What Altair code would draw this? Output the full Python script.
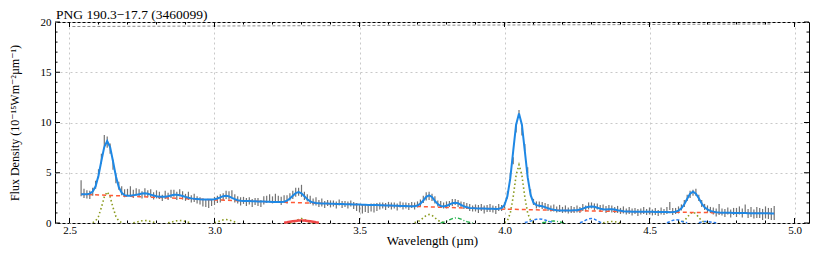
import altair as alt
import numpy as np
import pandas as pd

TITLE = "PNG 190.3\u221217.7 (3460099)"
X_TITLE = "Wavelength (\u00b5m)"
Y_TITLE = "Flux Density (10\u207b\u00b9\u2075Wm\u207b\u00b2\u00b5m\u207b\u00b9)"
FONT = "Liberation Serif, Times New Roman, DejaVu Serif, serif"

# wavelength sampling of the spectrum (2.54 ... 4.93 um, 0.01 um)
WL_START, WL_STEP, N_PTS = 2.54, 0.01, 240
wavelength = np.round(WL_START + WL_STEP * np.arange(N_PTS), 2)

flux = [
    3.45, 2.95, 2.85, 2.80, 3.10, 3.80, 4.90, 6.40, 8.20, 8.05,
    7.40, 5.80, 4.40, 3.70, 3.20, 2.95, 3.05, 3.20, 2.90, 3.10,
    2.95, 2.80, 3.05, 2.90, 2.95, 2.70, 2.85, 2.75, 2.50, 2.80,
    2.65, 2.90, 2.95, 2.70, 3.00, 2.75, 2.55, 2.70, 2.40, 2.50,
    2.30, 2.20, 2.05, 1.95, 1.90, 2.05, 2.20, 2.35, 2.45, 2.60,
    2.80, 2.75, 2.90, 2.45, 2.30, 2.15, 2.25, 2.10, 2.20, 2.00,
    2.15, 2.10, 1.95, 2.25, 2.35, 2.45, 2.30, 2.50, 2.35, 2.20,
    2.40, 2.35, 2.60, 2.80, 3.05, 3.10, 3.20, 2.70, 2.50, 2.30,
    2.10, 2.15, 1.95, 2.05, 1.85, 2.00, 1.90, 1.95, 1.80, 2.05,
    1.85, 1.90, 1.80, 1.95, 1.75, 1.60, 1.45, 1.40, 1.50, 1.45,
    1.55, 1.50, 1.60, 1.70, 1.75, 1.65, 1.80, 1.70, 1.75, 1.60,
    1.85, 1.70, 1.75, 1.65, 1.80, 1.70, 1.85, 2.00, 2.35, 2.65,
    2.70, 2.55, 2.30, 1.95, 1.85, 1.75, 1.80, 1.90, 2.05, 2.10,
    1.95, 1.85, 1.75, 1.70, 1.55, 1.45, 1.50, 1.40, 1.55, 1.35,
    1.45, 1.50, 1.40, 1.30, 1.55, 1.50, 1.75, 2.80, 4.60, 6.20,
    9.40, 10.90, 9.10, 7.50, 5.25, 3.00, 2.10, 1.80, 1.85, 1.75,
    1.70, 1.55, 1.45, 1.50, 1.35, 1.45, 1.30, 1.40, 1.25, 1.35,
    1.30, 1.40, 1.30, 1.55, 1.45, 1.70, 1.75, 1.60, 1.65, 1.45,
    1.55, 1.35, 1.50, 1.40, 1.30, 1.35, 1.20, 1.30, 1.15, 1.25,
    1.10, 1.20, 1.05, 1.15, 1.25, 1.10, 1.20, 1.05, 1.15, 1.00,
    1.20, 1.10, 1.25, 1.70, 1.15, 1.20, 1.30, 1.55, 1.95, 2.50,
    2.85, 3.00, 3.05, 2.50, 1.95, 1.60, 1.40, 1.30, 1.20, 1.05,
    1.35, 1.10, 1.00, 1.20, 0.95, 1.15, 1.05, 1.25, 1.00, 1.40,
    0.95, 1.10, 0.90, 1.05, 1.00, 0.85, 1.05, 0.95, 0.90, 1.00,
]

flux_err = [
    0.80, 0.45, 0.40, 0.40, 0.40, 0.40, 0.45, 0.50, 0.55, 0.55,
    0.50, 0.50, 0.45, 0.40, 0.45, 0.40, 0.35, 0.45, 0.40, 0.35,
    0.40, 0.35, 0.40, 0.35, 0.40, 0.35, 0.40, 0.35, 0.30, 0.40,
    0.35, 0.40, 0.35, 0.40, 0.35, 0.40, 0.35, 0.40, 0.35, 0.40,
    0.35, 0.35, 0.40, 0.35, 0.40, 0.35, 0.40, 0.35, 0.40, 0.35,
    0.40, 0.40, 0.35, 0.40, 0.35, 0.40, 0.35, 0.40, 0.35, 0.40,
    0.35, 0.40, 0.35, 0.40, 0.35, 0.40, 0.35, 0.40, 0.35, 0.40,
    0.35, 0.40, 0.35, 0.40, 0.45, 0.40, 0.60, 0.40, 0.35, 0.40,
    0.35, 0.40, 0.35, 0.40, 0.35, 0.30, 0.35, 0.30, 0.35, 0.30,
    0.35, 0.30, 0.35, 0.30, 0.35, 0.40, 0.40, 0.45, 0.40, 0.45,
    0.40, 0.45, 0.40, 0.35, 0.30, 0.35, 0.30, 0.35, 0.30, 0.35,
    0.30, 0.35, 0.30, 0.35, 0.30, 0.35, 0.30, 0.35, 0.35, 0.40,
    0.40, 0.35, 0.35, 0.30, 0.35, 0.30, 0.35, 0.30, 0.35, 0.30,
    0.35, 0.30, 0.35, 0.30, 0.35, 0.30, 0.35, 0.40, 0.35, 0.40,
    0.35, 0.40, 0.35, 0.40, 0.35, 0.30, 0.30, 0.35, 0.40, 0.35,
    0.40, 0.35, 0.40, 0.35, 0.30, 0.35, 0.30, 0.35, 0.30, 0.35,
    0.30, 0.35, 0.30, 0.35, 0.30, 0.35, 0.30, 0.35, 0.30, 0.35,
    0.30, 0.35, 0.30, 0.35, 0.30, 0.35, 0.30, 0.35, 0.30, 0.35,
    0.30, 0.35, 0.30, 0.35, 0.30, 0.35, 0.30, 0.35, 0.30, 0.35,
    0.35, 0.30, 0.35, 0.30, 0.35, 0.30, 0.35, 0.30, 0.35, 0.30,
    0.35, 0.30, 0.35, 0.40, 0.35, 0.30, 0.35, 0.30, 0.35, 0.30,
    0.35, 0.30, 0.35, 0.30, 0.35, 0.30, 0.35, 0.30, 0.35, 0.40,
    0.55, 0.35, 0.40, 0.35, 0.40, 0.35, 0.45, 0.40, 0.45, 0.45,
    0.45, 0.50, 0.45, 0.55, 0.50, 0.55, 0.60, 0.55, 0.60, 0.70,
]

model_fit = [
    2.86, 2.85, 2.86, 2.92, 3.13, 3.65, 4.72, 6.20, 7.58, 8.15,
    7.55, 6.15, 4.65, 3.56, 3.01, 2.77, 2.71, 2.71, 2.75, 2.80,
    2.87, 2.93, 2.95, 2.91, 2.82, 2.74, 2.66, 2.61, 2.60, 2.61,
    2.67, 2.74, 2.80, 2.81, 2.77, 2.69, 2.60, 2.51, 2.45, 2.41,
    2.39, 2.36, 2.35, 2.34, 2.33, 2.33, 2.36, 2.44, 2.55, 2.67,
    2.71, 2.65, 2.50, 2.37, 2.27, 2.22, 2.20, 2.19, 2.18, 2.17,
    2.16, 2.15, 2.14, 2.13, 2.12, 2.11, 2.10, 2.09, 2.09, 2.09,
    2.12, 2.22, 2.43, 2.71, 2.97, 3.07, 2.95, 2.67, 2.37, 2.15,
    2.03, 1.98, 1.97, 1.95, 1.94, 1.93, 1.92, 1.91, 1.90, 1.89,
    1.88, 1.87, 1.87, 1.86, 1.85, 1.84, 1.83, 1.82, 1.81, 1.80,
    1.79, 1.78, 1.78, 1.77, 1.76, 1.75, 1.74, 1.73, 1.72, 1.71,
    1.70, 1.69, 1.68, 1.67, 1.66, 1.67, 1.74, 1.92, 2.24, 2.60,
    2.75, 2.59, 2.21, 1.88, 1.69, 1.65, 1.71, 1.84, 1.97, 2.02,
    1.96, 1.81, 1.66, 1.56, 1.50, 1.48, 1.46, 1.45, 1.44, 1.44,
    1.43, 1.42, 1.41, 1.40, 1.41, 1.49, 1.79, 2.65, 4.46, 7.15,
    9.78, 10.90, 9.78, 7.17, 4.53, 2.79, 2.01, 1.78, 1.72, 1.66,
    1.58, 1.47, 1.38, 1.32, 1.28, 1.25, 1.25, 1.24, 1.24, 1.24,
    1.26, 1.28, 1.35, 1.43, 1.54, 1.62, 1.65, 1.61, 1.52, 1.43,
    1.37, 1.35, 1.38, 1.36, 1.34, 1.27, 1.22, 1.17, 1.14, 1.14,
    1.13, 1.13, 1.13, 1.12, 1.12, 1.11, 1.11, 1.11, 1.10, 1.10,
    1.09, 1.09, 1.09, 1.08, 1.09, 1.12, 1.23, 1.46, 1.87, 2.42,
    2.91, 3.11, 2.92, 2.46, 1.94, 1.56, 1.35, 1.21, 1.13, 1.08,
    1.04, 1.02, 1.01, 1.01, 1.01, 1.00, 1.00, 1.00, 0.99, 0.99,
    0.98, 0.98, 0.98, 0.97, 0.97, 0.97, 0.96, 0.96, 0.95, 0.95,
]

continuum_wl = [2.54, 2.80, 3.00, 3.20, 3.40, 3.60, 3.80, 4.00, 4.20, 4.40, 4.60, 4.80, 4.93]
continuum_val = [2.86, 2.55, 2.30, 2.10, 1.92, 1.74, 1.55, 1.38, 1.25, 1.15, 1.07, 1.00, 0.95]

# upper grey dashed curve
upper_wl = [2.51, 3.00, 3.50, 4.00, 4.50, 4.92]
upper_val = [19.55, 19.60, 19.65, 19.70, 19.75, 19.80]

# line components: (style, wavelengths, values)
components = [
    ("olive", [2.58, 2.59, 2.60, 2.61, 2.62, 2.63, 2.64, 2.65, 2.66, 2.67, 2.68],
              [0.04, 0.20, 0.65, 1.55, 2.60, 3.10, 2.60, 1.55, 0.65, 0.20, 0.04]),
    ("olive", [2.72, 2.73, 2.74, 2.75, 2.76, 2.77, 2.78, 2.79, 2.80],
              [0.03, 0.08, 0.15, 0.22, 0.25, 0.22, 0.15, 0.08, 0.03]),
    ("olive", [2.84, 2.85, 2.86, 2.87, 2.88, 2.89, 2.90, 2.91, 2.92],
              [0.03, 0.08, 0.15, 0.22, 0.25, 0.22, 0.15, 0.08, 0.03]),
    ("olive", [3.00, 3.01, 3.02, 3.03, 3.04, 3.05, 3.06, 3.07, 3.08],
              [0.05, 0.11, 0.21, 0.31, 0.35, 0.31, 0.21, 0.11, 0.05]),
    ("red", [3.24, 3.25, 3.26, 3.27, 3.28, 3.29, 3.30, 3.31, 3.32, 3.33, 3.34, 3.35, 3.36],
            [0.03, 0.07, 0.12, 0.17, 0.21, 0.24, 0.25, 0.24, 0.21, 0.17, 0.12, 0.07, 0.03]),
    ("olive", [3.26, 3.27, 3.28, 3.29, 3.30, 3.31, 3.32, 3.33, 3.34],
              [0.01, 0.06, 0.19, 0.36, 0.45, 0.36, 0.19, 0.06, 0.01]),
    ("olive", [3.69, 3.70, 3.71, 3.72, 3.73, 3.74, 3.75, 3.76, 3.77, 3.78, 3.79],
              [0.04, 0.12, 0.28, 0.52, 0.75, 0.85, 0.75, 0.52, 0.28, 0.12, 0.04]),
    ("green", [3.78, 3.79, 3.80, 3.81, 3.82, 3.83, 3.84, 3.85, 3.86, 3.87, 3.88, 3.89],
              [0.03, 0.08, 0.18, 0.31, 0.43, 0.50, 0.48, 0.38, 0.25, 0.13, 0.06, 0.02]),
    ("olive", [4.00, 4.01, 4.02, 4.03, 4.04, 4.05, 4.06, 4.07, 4.08, 4.09, 4.10],
              [0.04, 0.25, 0.98, 2.61, 4.75, 5.80, 4.75, 2.61, 0.98, 0.25, 0.04]),
    ("blue", [4.07, 4.08, 4.09, 4.10, 4.11, 4.12, 4.13, 4.14, 4.15, 4.16, 4.17],
             [0.05, 0.11, 0.19, 0.29, 0.37, 0.40, 0.37, 0.29, 0.19, 0.11, 0.05]),
    ("green", [4.13, 4.14, 4.15, 4.16, 4.17, 4.18, 4.19, 4.20, 4.21],
              [0.03, 0.08, 0.14, 0.19, 0.20, 0.17, 0.11, 0.05, 0.02]),
    ("blue", [4.26, 4.27, 4.28, 4.29, 4.30, 4.31, 4.32, 4.33, 4.34],
             [0.03, 0.12, 0.28, 0.41, 0.45, 0.38, 0.22, 0.08, 0.02]),
    ("olive", [4.34, 4.35, 4.36, 4.37, 4.38, 4.39, 4.40],
              [0.02, 0.07, 0.13, 0.15, 0.13, 0.07, 0.02]),
    ("blue", [4.56, 4.57, 4.58, 4.59, 4.60, 4.61, 4.62, 4.63],
             [0.03, 0.12, 0.26, 0.34, 0.30, 0.18, 0.07, 0.02]),
    ("olive", [4.60, 4.61, 4.62, 4.63, 4.64, 4.65, 4.66, 4.67, 4.68, 4.69, 4.70],
              [0.02, 0.07, 0.23, 0.55, 0.92, 1.10, 0.92, 0.55, 0.23, 0.07, 0.02]),
    ("blue", [4.67, 4.68, 4.69, 4.70, 4.71, 4.72, 4.73],
             [0.03, 0.09, 0.14, 0.15, 0.11, 0.05, 0.02]),
]

X_DOMAIN = [2.45, 5.05]
Y_DOMAIN = [0, 20]
X_MAJOR = [2.5, 3.0, 3.5, 4.0, 4.5, 5.0]
Y_MAJOR = [0, 5, 10, 15, 20]

W, H = 754, 201

# ---------------- data frames ----------------
spec = pd.DataFrame({"wl": wavelength, "val": flux, "err": flux_err})
spec["lo"] = spec["val"] - spec["err"]
spec["hi"] = spec["val"] + spec["err"]
fit_df = pd.DataFrame({"wl": wavelength, "val": model_fit})
cont_df = pd.DataFrame({"wl": continuum_wl, "val": continuum_val})
upper_df = pd.DataFrame({"wl": upper_wl, "val": upper_val})

rows = []
for i, (style, xs, ys) in enumerate(components):
    for xv, yv in zip(xs, ys):
        rows.append({"wl": xv, "val": yv, "comp": i, "style": style})
comp_df = pd.DataFrame(rows)

# inward ticks (lengths in data units: ~5px major, ~2.5px minor)
xpx = (X_DOMAIN[1] - X_DOMAIN[0]) / W
ypx = (Y_DOMAIN[1] - Y_DOMAIN[0]) / H
x_all = [round(v, 1) for v in np.arange(2.5, 5.001, 0.1)]
y_all = list(range(0, 21))
xt = []
for v in x_all:
    L = 5 * ypx if v in X_MAJOR else 2.5 * ypx
    xt.append({"wl": v, "y0": 0.0, "y1": L})
    xt.append({"wl": v, "y0": 20.0, "y1": 20.0 - L})
xt_df = pd.DataFrame(xt)
yt = []
for v in y_all:
    L = 5 * xpx if v in Y_MAJOR else 2.5 * xpx
    yt.append({"val": v, "x0": X_DOMAIN[0], "x1": X_DOMAIN[0] + L})
    yt.append({"val": v, "x0": X_DOMAIN[1], "x1": X_DOMAIN[1] - L})
yt_df = pd.DataFrame(yt)

xscale = alt.Scale(domain=X_DOMAIN, nice=False, zero=False)
yscale = alt.Scale(domain=Y_DOMAIN, nice=False, zero=False)
xaxis = alt.Axis(values=X_MAJOR, format=".1f", title=X_TITLE, ticks=False, domain=False,
                 grid=True, gridDash=[2, 3], gridColor="#c8c8c8", gridWidth=1,
                 labelFont=FONT, labelFontSize=11, labelPadding=1, labelColor="black",
                 titleFont=FONT, titleFontSize=13, titleFontWeight="normal",
                 titlePadding=-1, titleColor="black", labelFlush=False)
yaxis = alt.Axis(values=Y_MAJOR, title=Y_TITLE, ticks=False, domain=False,
                 grid=True, gridDash=[2, 3], gridColor="#c8c8c8", gridWidth=1,
                 labelFont=FONT, labelFontSize=11, labelPadding=4, labelColor="black",
                 titleFont=FONT, titleFontSize=12, titleFontWeight="normal",
                 titlePadding=19, titleColor="black", labelFlush=False)


def X(field="wl"):
    return alt.X(f"{field}:Q", scale=xscale, axis=xaxis)


def Y(field="val"):
    return alt.Y(f"{field}:Q", scale=yscale, axis=yaxis)


bars = alt.Chart(spec).mark_rule(color="#737373", strokeWidth=1.2).encode(
    x=X(), y=Y("lo"), y2="hi:Q")

upper = alt.Chart(upper_df).mark_line(color="#8c8c8c", strokeWidth=1, strokeDash=[3, 2]).encode(
    x=X(), y=Y())

styles = {
    "olive": dict(color="#8a9a1e", strokeWidth=1.6, strokeDash=[1.5, 2.5]),
    "green": dict(color="#22b04a", strokeWidth=1.4, strokeDash=[4, 2, 1, 2]),
    "blue": dict(color="#2a7ef0", strokeWidth=1.5, strokeDash=[3, 2]),
    "red": dict(color="#f04848", strokeWidth=2.5),
}
comp_layers = []
for st, kw in styles.items():
    comp_layers.append(
        alt.Chart(comp_df[comp_df["style"] == st]).mark_line(**kw).encode(
            x=X(), y=Y(), detail="comp:N")
    )

cont = alt.Chart(cont_df).mark_line(color="#ff5a36", strokeWidth=1.5, strokeDash=[4, 3]).encode(
    x=X(), y=Y())

fit = alt.Chart(fit_df).mark_line(color="#1e88e5", strokeWidth=2).encode(x=X(), y=Y())

xticks = alt.Chart(xt_df).mark_rule(color="black", strokeWidth=1).encode(
    x=X(), y=Y("y0"), y2="y1:Q")
yticks = alt.Chart(yt_df).mark_rule(color="black", strokeWidth=1).encode(
    x=X("x0"), x2="x1:Q", y=Y())

chart = alt.layer(
    bars, upper, *comp_layers, cont, fit, xticks, yticks
).properties(
    width=W, height=H,
    title=alt.TitleParams(TITLE, anchor="start", frame="group", font=FONT, fontSize=13.5,
                          fontWeight="normal", color="black", offset=0, dx=1, dy=5),
    autosize=alt.AutoSizeParams(type="none"),
    padding={"left": 47, "top": 14, "right": 13, "bottom": 25},
).configure(
    font=FONT, background="white"
).configure_view(
    stroke="black", strokeWidth=1
)

chart.save("out.html", embed_options={"renderer": "svg", "actions": False})
